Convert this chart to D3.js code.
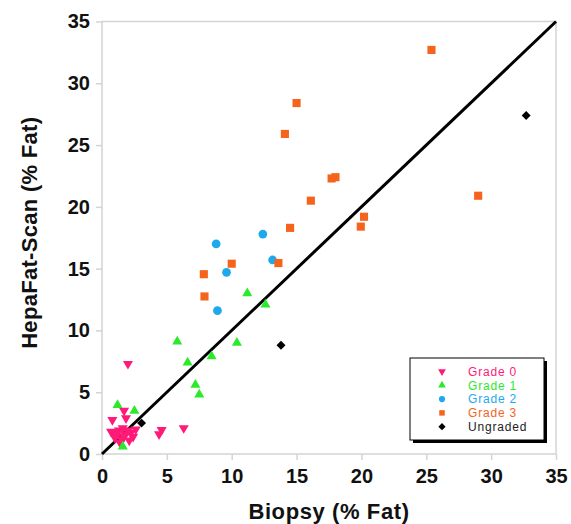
<!DOCTYPE html>
<html>
<head>
<meta charset="utf-8">
<script src="https://cdn.jsdelivr.net/npm/d3@7"></script>
<style>
  body { margin: 0; background: #fff; }
  svg { font-family: "Liberation Sans", Arial, sans-serif; }
</style>
</head>
<body>
<div id="chart"></div>
<script>
// Biopsy (%) vs HepaFat-Scan (%) readings, one array per grade
const grade0 = [
  [2.0, 7.3], [1.7, 3.5], [1.85, 2.9], [0.8, 2.75], [1.6, 2.1], [4.6, 1.95], [4.4, 1.6], [6.3, 2.1],
  [0.7, 1.8], [0.9, 1.7], [1.1, 1.5], [1.3, 1.9], [1.0, 1.3], [1.5, 1.2], [1.8, 1.6], [2.0, 1.9],
  [2.2, 1.7], [2.4, 1.4], [2.1, 1.1], [2.6, 2.0], [1.4, 0.9], [1.7, 1.4]
];
const grade1 = [
  [1.2, 3.95], [2.5, 3.5], [1.6, 0.6], [6.6, 7.4], [8.45, 7.9], [7.2, 5.6], [7.5, 4.8],
  [5.8, 9.1], [10.4, 9.0], [11.2, 13.0], [12.6, 12.1]
];
const grade2 = [[8.8, 17.0], [12.4, 17.8], [13.15, 15.7], [9.6, 14.7], [8.9, 11.6]];
const grade3 = [
  [25.4, 32.7], [29.0, 20.9], [15.0, 28.4], [14.1, 25.9], [17.7, 22.3], [18.0, 22.4], [16.1, 20.5],
  [20.2, 19.2], [19.95, 18.4], [14.5, 18.3], [13.6, 15.45], [10.0, 15.4], [7.85, 14.55], [7.9, 12.75]
];
const ungraded = [[32.7, 27.4], [13.8, 8.8], [3.05, 2.5]];
const ticks = [0, 5, 10, 15, 20, 25, 30, 35];

const series = [
  { name: 'Grade 0', data: grade0, color: '#ff1a78', shape: 'down' },
  { name: 'Grade 1', data: grade1, color: '#2bea2b', shape: 'up' },
  { name: 'Grade 2', data: grade2, color: '#1ea9ec', shape: 'circle' },
  { name: 'Grade 3', data: grade3, color: '#f5641c', shape: 'square' },
  { name: 'Ungraded', data: ungraded, color: '#000000', shape: 'diamond' }
];

const width = 571, height = 524;
const margin = { left: 102, right: 15, top: 21.5, bottom: 70 };

const svg = d3.select('#chart').append('svg')
  .attr('width', width)
  .attr('height', height);

const x = d3.scaleLinear().domain([0, 35]).range([margin.left, width - margin.right]);
const y = d3.scaleLinear().domain([0, 35]).range([height - margin.bottom, margin.top]);

// frame
svg.append('rect')
  .attr('x', x(0)).attr('y', y(35))
  .attr('width', x(35) - x(0)).attr('height', y(0) - y(35))
  .attr('fill', 'none').attr('stroke', '#d4d4d4').attr('stroke-width', 1.5);

const xAxis = svg.append('g')
  .attr('transform', `translate(0,${y(0)})`)
  .call(d3.axisBottom(x).tickValues(ticks).tickSize(6).tickPadding(9));
const yAxis = svg.append('g')
  .attr('transform', `translate(${x(0)},0)`)
  .call(d3.axisLeft(y).tickValues(ticks).tickSize(6).tickPadding(6));

[xAxis, yAxis].forEach(a => {
  a.select('.domain').remove();
  a.selectAll('.tick line').attr('stroke', '#d4d4d4').attr('stroke-width', 1.5);
  a.selectAll('.tick text')
    .attr('fill', '#111')
    .style('font-size', '20px')
    .style('font-weight', 'bold')
    .style('font-family', '"Liberation Sans", Arial, sans-serif');
});

// identity line
svg.append('line')
  .attr('x1', x(0)).attr('y1', y(0))
  .attr('x2', x(35)).attr('y2', y(35))
  .attr('stroke', '#000').attr('stroke-width', 3);

function symbolPath(shape) {
  if (shape === 'circle') return d3.symbol().type(d3.symbolCircle).size(60)();
  if (shape === 'square') return d3.symbol().type(d3.symbolSquare).size(66)();
  if (shape === 'diamond') return d3.symbol().type(d3.symbolSquare).size(40)();
  return d3.symbol().type(d3.symbolTriangle).size(44)();
}
function symbolRotate(shape) {
  if (shape === 'down') return 180;
  if (shape === 'diamond') return 45;
  return 0;
}

series.forEach(s => {
  svg.append('g')
    .selectAll('path')
    .data(s.data)
    .enter().append('path')
    .attr('d', symbolPath(s.shape))
    .attr('fill', s.color)
    .attr('transform', d => `translate(${x(d[0])},${y(d[1])}) rotate(${symbolRotate(s.shape)})`);
});

// legend
const legend = svg.append('g').attr('transform', 'translate(410,358)');
legend.append('rect')
  .attr('x', 3).attr('y', 3).attr('width', 134).attr('height', 82)
  .attr('fill', '#000');
legend.append('rect')
  .attr('width', 134).attr('height', 82)
  .attr('fill', '#fff').attr('stroke', '#000').attr('stroke-width', 1);

const rows = legend.selectAll('g.row')
  .data(series)
  .enter().append('g')
  .attr('class', 'row')
  .attr('transform', (d, i) => `translate(0,${13.5 + i * 13.8})`);

rows.append('path')
  .attr('d', d => {
    if (d.shape === 'circle') return d3.symbol().type(d3.symbolCircle).size(30)();
    if (d.shape === 'square') return d3.symbol().type(d3.symbolSquare).size(30)();
    if (d.shape === 'diamond') return d3.symbol().type(d3.symbolSquare).size(26)();
    return d3.symbol().type(d3.symbolTriangle).size(26)();
  })
  .attr('fill', d => d.color)
  .attr('transform', d => `translate(32,0) rotate(${symbolRotate(d.shape)})`);

rows.append('text')
  .attr('x', 58)
  .attr('dy', '0.35em')
  .attr('fill', d => d.shape === 'diamond' ? '#222' : d.color)
  .style('font-size', '12px')
  .style('letter-spacing', '0.8px')
  .text(d => d.name);

// axis titles
svg.append('text')
  .attr('x', (x(0) + x(35)) / 2)
  .attr('y', 519)
  .attr('text-anchor', 'middle')
  .style('font-size', '22px')
  .style('font-weight', 'bold')
  .style('letter-spacing', '0.6px')
  .attr('fill', '#111')
  .text('Biopsy (% Fat)');

svg.append('text')
  .attr('transform', `translate(37,${(y(0) + y(35)) / 2 - 5}) rotate(-90)`)
  .attr('text-anchor', 'middle')
  .style('font-size', '22px')
  .style('font-weight', 'bold')
  .style('letter-spacing', '0.3px')
  .attr('fill', '#111')
  .text('HepaFat-Scan (% Fat)');
</script>
</body>
</html>
